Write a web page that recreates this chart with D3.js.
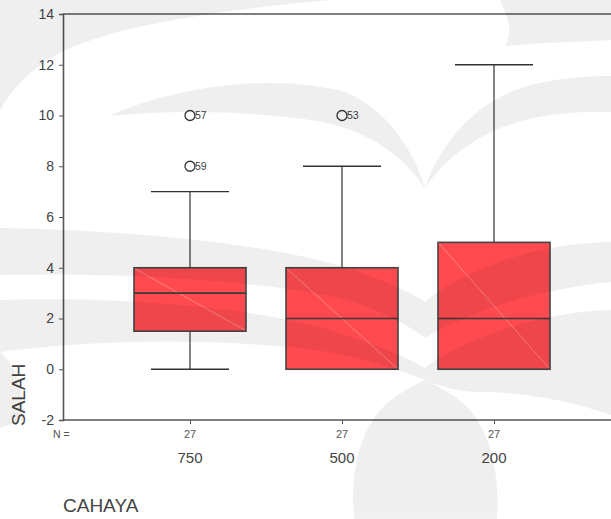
<!DOCTYPE html>
<html>
<head>
<meta charset="utf-8">
<script src="https://cdn.jsdelivr.net/npm/d3@7"></script>
<style>
  html, body { margin: 0; padding: 0; background: #fff; }
  svg { display: block; font-family: "Liberation Sans", Arial, sans-serif; }
</style>
</head>
<body>
<svg id="chart" width="611" height="519"></svg>
<script>
// Box plot of SALAH by CAHAYA
const categories = ["750", "500", "200"];
const q1 = [1.5, 0, 0];
const median = [3, 2, 2];
const q3 = [4, 4, 5];
const whiskerLow = [0, 0, 0];
const whiskerHigh = [7, 8, 12];
const counts = [27, 27, 27];

const outlierCategory = ["750", "750", "500"];
const outlierValue = [10, 8, 10];
const outlierCase = ["57", "59", "53"];

const yTicks = [-2, 0, 2, 4, 6, 8, 10, 12, 14];

const svg = d3.select("#chart");
const W = 611, H = 519;
const plotLeft = 63, plotTop = 14, plotBottom = 420;

const y = d3.scaleLinear().domain([-2, 14]).range([plotBottom, plotTop]);
const x = d3.scalePoint().domain(categories).range([190, 494]);

const boxW = 112, capW = 78;
const ink = "#444";

// frame: top border and bottom baseline run to the right edge
svg.append("line").attr("x1", plotLeft).attr("x2", W).attr("y1", plotTop).attr("y2", plotTop)
  .attr("stroke", "#555").attr("stroke-width", 1.6);

// y axis
const yAxis = d3.axisLeft(y).tickValues(yTicks).tickSize(4).tickPadding(5).tickFormat(d => String(d));
const gy = svg.append("g").attr("transform", `translate(${plotLeft},0)`).call(yAxis);
gy.select(".domain").attr("stroke", "#555").attr("stroke-width", 1.6);
gy.selectAll(".tick line").attr("stroke", "#555");
gy.selectAll(".tick text").attr("fill", "#444").style("font-size", "14px")
  .style("font-family", "'Liberation Sans', Arial, sans-serif");

// x axis
const xAxis = d3.axisBottom(x).tickSize(4).tickFormat(() => "");
const gx = svg.append("g").attr("transform", `translate(0,${plotBottom})`).call(xAxis);
gx.select(".domain").remove();
gx.selectAll(".tick line").attr("stroke", "#555");
svg.append("line").attr("x1", plotLeft).attr("x2", W).attr("y1", plotBottom).attr("y2", plotBottom)
  .attr("stroke", "#555").attr("stroke-width", 1.6);

const boxes = categories.map((c, i) => ({
  c, q1: q1[i], med: median[i], q3: q3[i], lo: whiskerLow[i], hi: whiskerHigh[i], n: counts[i]
}));

const g = svg.append("g");

// whiskers
boxes.forEach(b => {
  const cx = x(b.c);
  if (b.hi > b.q3) {
    g.append("line").attr("x1", cx).attr("x2", cx).attr("y1", y(b.q3)).attr("y2", y(b.hi))
      .attr("stroke", "#333").attr("stroke-width", 1.2);
    g.append("line").attr("x1", cx - capW / 2).attr("x2", cx + capW / 2).attr("y1", y(b.hi)).attr("y2", y(b.hi))
      .attr("stroke", "#333").attr("stroke-width", 1.4);
  }
  if (b.lo < b.q1) {
    g.append("line").attr("x1", cx).attr("x2", cx).attr("y1", y(b.q1)).attr("y2", y(b.lo))
      .attr("stroke", "#333").attr("stroke-width", 1.2);
    g.append("line").attr("x1", cx - capW / 2).attr("x2", cx + capW / 2).attr("y1", y(b.lo)).attr("y2", y(b.lo))
      .attr("stroke", "#333").attr("stroke-width", 1.4);
  }
});

// boxes
boxes.forEach(b => {
  const cx = x(b.c);
  const x0 = cx - boxW / 2, y0 = y(b.q3), y1 = y(b.q1);
  g.append("rect").attr("x", x0).attr("y", y0).attr("width", boxW).attr("height", y1 - y0)
    .attr("fill", "#ff4b50").attr("stroke", ink).attr("stroke-width", 1.6);
  g.append("line").attr("x1", x0 + 1).attr("y1", y0 + 1).attr("x2", x0 + boxW - 1).attr("y2", y1 - 1)
    .attr("stroke", "#ffb0a8").attr("stroke-width", 0.7).attr("opacity", 0.8);
  g.append("line").attr("x1", x0).attr("x2", x0 + boxW).attr("y1", y(b.med)).attr("y2", y(b.med))
    .attr("stroke", "#3a3a3a").attr("stroke-width", 1.6);
});

// outliers with case numbers
outlierValue.forEach((v, i) => {
  const cx = x(outlierCategory[i]), cy = y(v);
  g.append("circle").attr("cx", cx).attr("cy", cy).attr("r", 5)
    .attr("fill", "none").attr("stroke", "#333").attr("stroke-width", 1.3);
  g.append("text").attr("x", cx + 5).attr("y", cy + 3.8).text(outlierCase[i])
    .attr("fill", "#444").style("font-size", "10.5px");
});

// counts row
svg.append("text").attr("x", 53).attr("y", 438).text("N =")
  .attr("fill", "#555").style("font-size", "10.5px");
boxes.forEach(b => {
  svg.append("text").attr("x", x(b.c)).attr("y", 438).attr("text-anchor", "middle").text(b.n)
    .attr("fill", "#555").style("font-size", "11px");
  svg.append("text").attr("x", x(b.c)).attr("y", 463).attr("text-anchor", "middle").text(b.c)
    .attr("fill", "#444").style("font-size", "15px");
});

// axis titles
svg.append("text").attr("x", 63).attr("y", 512).text("CAHAYA")
  .attr("fill", "#444").style("font-size", "19px");
svg.append("text").attr("transform", "translate(25,426) rotate(-90)").text("SALAH")
  .attr("fill", "#444").style("font-size", "19px");

// faint background emblem laid over the page
const wm = svg.append("g").attr("fill", "#000").attr("opacity", 0.06).style("pointer-events", "none");
const shapes = [
  // upper sweeping band
  "M0,0 H330 C240,8 130,22 70,48 C35,64 15,85 0,110 Z",
  // left arm of the upper V
  "M110,116 C170,88 270,72 345,92 C390,110 415,155 425,188 C405,158 372,132 322,122 C252,110 172,110 110,116 Z",
  // right arm of the upper V
  "M425,188 C442,140 478,98 535,84 C565,77 592,76 611,76 V112 C572,110 522,116 487,134 C457,150 438,168 425,188 Z",
  // middle wave
  "M0,228 C120,230 260,242 340,266 C385,280 410,292 425,302 C445,284 490,262 540,250 C570,244 595,242 611,242 V282 C570,286 520,296 480,312 C455,322 437,330 425,338 C405,322 370,305 330,296 C250,280 120,272 0,275 Z",
  // lower wave
  "M0,300 C110,296 250,306 330,330 C375,344 405,356 425,368 C445,352 490,330 545,318 C575,312 598,310 611,310 V415 C570,400 520,392 480,392 C455,392 437,385 425,380 C405,372 360,355 300,348 C200,338 90,340 0,352 Z",
  // left lower arc
  "M0,352 C14,362 24,390 24,420 L0,428 Z",
  // vase
  "M354,519 C350,470 360,430 385,405 C400,392 415,385 425,380 C435,385 450,392 465,405 C490,430 500,470 497,519 Z",
  // upper right patch
  "M500,0 H611 V40 C580,42 545,42 505,46 C515,30 505,12 500,0 Z"
];
shapes.forEach(p => wm.append("path").attr("d", p));
</script>
</body>
</html>
